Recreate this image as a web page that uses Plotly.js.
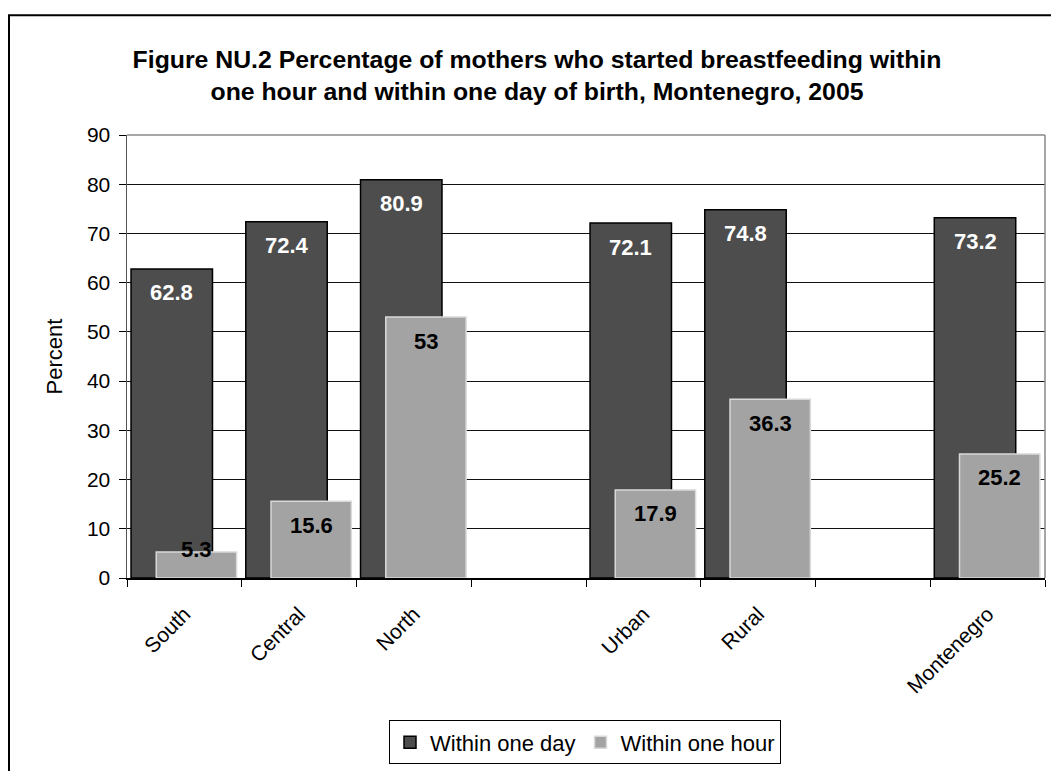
<!DOCTYPE html>
<html>
<head>
<meta charset="utf-8">
<script src="https://cdn.plot.ly/plotly-3.0.1.min.js"></script>
<style>
  html, body { margin: 0; padding: 0; background: #ffffff; }
  #chart { width: 1051px; height: 771px; }
</style>
</head>
<body>
<div id="chart"></div>
<script>
// ---- data ----
const categories = ["South", "Central", "North", " ", "Urban", "Rural", "  ", "Montenegro"];
const withinOneDay = [62.8, 72.4, 80.9, null, 72.1, 74.8, null, 73.2];
const withinOneHour = [5.3, 15.6, 53, null, 17.9, 36.3, null, 25.2];
const seriesNames = ["Within one day", "Within one hour"];
const yTicks = [0, 10, 20, 30, 40, 50, 60, 70, 80, 90];

// ---- geometry / style ----
const FONT = '"Liberation Sans", Arial, sans-serif';
const W = 1051, H = 771;
const M = { l: 127, r: 6, t: 135, b: 188 };
const plotH = H - M.t - M.b;
const plotW = W - M.l - M.r;
const yMax = 90;
const pxPerUnit = plotH / yMax;

const dayOffset = -0.465, dayWidth = 0.71;
const hourOffset = -0.245, hourWidth = 0.70;

const traces = [
  {
    type: 'bar', name: seriesNames[0], x: categories, y: withinOneDay,
    offset: dayOffset, width: dayWidth,
    marker: { color: '#4d4d4d', line: { color: '#000000', width: 1.5 } },
    hoverinfo: 'skip'
  },
  {
    type: 'bar', name: seriesNames[1], x: categories, y: withinOneHour,
    offset: hourOffset, width: hourWidth,
    marker: { color: '#a3a3a3', line: { color: '#d9d9d9', width: 1.5 } },
    hoverinfo: 'skip'
  }
];

function labelShift(v) {
  return (v * pxPerUnit < 48) ? 2 : -24;
}

const annotations = [];
categories.forEach((c, i) => {
  const d = withinOneDay[i];
  if (d !== null) {
    annotations.push({
      x: i + dayOffset + dayWidth / 2, y: d, xref: 'x', yref: 'y',
      text: '<b>' + String(d) + '</b>', showarrow: false,
      yanchor: 'middle', xanchor: 'center', yshift: labelShift(d),
      font: { family: FONT, size: 22, color: '#ffffff' }
    });
  }
  const h = withinOneHour[i];
  if (h !== null) {
    annotations.push({
      x: i + hourOffset + hourWidth / 2, y: h, xref: 'x', yref: 'y',
      text: '<b>' + String(h) + '</b>', showarrow: false,
      yanchor: 'middle', xanchor: 'center', yshift: labelShift(h),
      font: { family: FONT, size: 22, color: '#000000' }
    });
  }
});

const pxX = p => (p - M.l) / plotW;
const pxY = p => (H - M.b - p) / plotH;

const layout = {
  width: W, height: H,
  margin: M,
  paper_bgcolor: '#ffffff', plot_bgcolor: '#ffffff',
  font: { family: FONT, size: 21, color: '#000000' },
  title: {
    text: '<b>Figure NU.2 Percentage of mothers who started breastfeeding within<br>one hour and within one day of birth, Montenegro, 2005</b>',
    font: { family: FONT, size: 24.8, color: '#000000' },
    xref: 'container', x: 537 / W, xanchor: 'center',
    yref: 'container', y: 1 - 68 / H, yanchor: 'middle'
  },
  barmode: 'overlay',
  showlegend: true,
  legend: {
    orientation: 'h', x: pxX(585), xanchor: 'center', y: pxY(727), yanchor: 'top',
    bordercolor: '#000000', borderwidth: 1, bgcolor: '#ffffff',
    font: { family: FONT, size: 22, color: '#000000' },
    traceorder: 'normal'
  },
  xaxis: {
    type: 'category', categoryorder: 'array', categoryarray: categories,
    range: [-0.5, categories.length - 0.5],
    tickson: 'boundaries', ticks: 'outside', ticklen: 7, tickcolor: '#000000', tickwidth: 1,
    tickangle: -45, ticklabelstandoff: 14,
    tickfont: { family: FONT, size: 21, color: '#000000' },
    showline: true, linecolor: '#000000', linewidth: 1.5,
    showgrid: false, zeroline: false, fixedrange: true
  },
  yaxis: {
    range: [0, yMax], tickvals: yTicks, ticktext: yTicks.map(String),
    ticks: 'outside', ticklen: 7, tickcolor: '#000000', tickwidth: 1,
    ticklabelstandoff: 4,
    tickfont: { family: FONT, size: 21, color: '#000000' },
    showline: true, linecolor: '#555555', linewidth: 1.5,
    showgrid: true, gridcolor: '#111111', gridwidth: 1,
    zeroline: false, fixedrange: true,
    title: { text: 'Percent', font: { family: FONT, size: 22, color: '#000000' }, standoff: 18 }
  },
  shapes: [
    { type: 'line', xref: 'paper', yref: 'paper', x0: 0, x1: 1, y0: 1, y1: 1,
      line: { color: '#888888', width: 1.5 }, layer: 'above' },
    { type: 'line', xref: 'paper', yref: 'paper', x0: 1, x1: 1, y0: 0, y1: 1,
      line: { color: '#888888', width: 1.5 }, layer: 'above' },
    { type: 'rect', xref: 'paper', yref: 'paper',
      x0: pxX(9), x1: pxX(1062), y0: pxY(790), y1: pxY(14),
      line: { color: '#000000', width: 2 }, fillcolor: 'rgba(0,0,0,0)', layer: 'above' }
  ],
  annotations: annotations
};

Plotly.newPlot('chart', traces, layout, { displayModeBar: false, staticPlot: true });
</script>
</body>
</html>
